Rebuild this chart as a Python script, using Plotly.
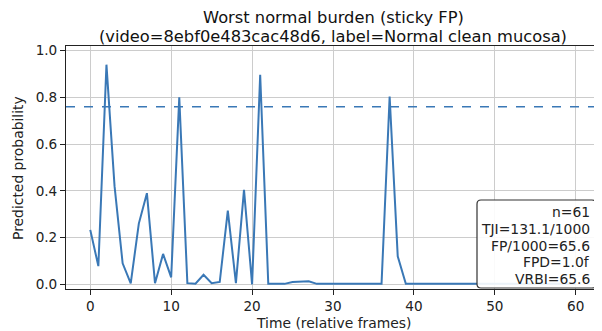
import plotly.graph_objects as go

frames = list(range(61))
probs = [0.233, 0.078, 0.94, 0.42, 0.09, 0.004, 0.26, 0.39, 0.005, 0.13,
         0.03, 0.80, 0.005, 0.003, 0.041, 0.005, 0.01, 0.315, 0.005, 0.404,
         0.0, 0.897, 0.002, 0.002, 0.002, 0.01, 0.01, 0.013, 0.002, 0.002,
         0.002, 0.002, 0.002, 0.002, 0.002, 0.002, 0.002, 0.804, 0.12, 0.002,
         0.002, 0.002, 0.002, 0.003, 0.003, 0.002, 0.002, 0.002, 0.002, 0.002,
         0.002, 0.002, 0.002, 0.002, 0.002, 0.002, 0.002, 0.002, 0.002, 0.002,
         0.002]
threshold = 0.76
title_lines = ["Worst normal burden (sticky FP)",
               "(video=8ebf0e483cac48d6, label=Normal clean mucosa)"]
stats_lines = ["n=61", "TJI=131.1/1000", "FP/1000=65.6", "FPD=1.0f", "VRBI=65.6"]
x_ticks = [0, 10, 20, 30, 40, 50, 60]
y_ticks = [0.0, 0.2, 0.4, 0.6, 0.8, 1.0]
x_label = "Time (relative frames)"
y_label = "Predicted probability"

color = "#3a78b6"
W, H = 594, 323
L, R, T, B = 58, 2, 38, 42
pw, ph = W - L - R, H - T - B


def px(x):  # reference pixel x -> paper
    return (x - 66) / pw


def py(y):  # reference pixel y -> paper
    return (289 - y) / ph


fig = go.Figure()
fig.add_trace(go.Scatter(x=frames, y=probs, mode="lines",
                         line=dict(color=color, width=2), showlegend=False))
fig.add_hline(y=threshold, line=dict(color=color, width=1.6, dash="dash"))

# rounded stats box
x0, x1 = px(477), px(596)
y0, y1 = py(288), py(200)
rx, ry = 4 / pw, 4 / ph
path = (f"M {x0+rx},{y0} L {x1-rx},{y0} Q {x1},{y0} {x1},{y0+ry} "
        f"L {x1},{y1-ry} Q {x1},{y1} {x1-rx},{y1} L {x0+rx},{y1} "
        f"Q {x0},{y1} {x0},{y1-ry} L {x0},{y0+ry} Q {x0},{y0} {x0+rx},{y0} Z")
fig.add_shape(type="path", path=path, xref="paper", yref="paper", layer="above",
              fillcolor="rgba(255,255,255,0.9)", line=dict(color="#333", width=1.2))
for i, line in enumerate(stats_lines):
    fig.add_annotation(
        xref="paper", yref="paper", x=px(591), y=py(212.5 + 16.5 * i),
        xanchor="right", yanchor="middle", text=line, showarrow=False,
        font=dict(size=13.9, color="#222"), borderpad=0,
    )

# title
for i, line in enumerate(title_lines):
    fig.add_annotation(
        xref="paper", yref="paper", x=px(333), y=py(17.5 + 19 * i),
        xanchor="center", yanchor="middle", showarrow=False, borderpad=0,
        text=line, font=dict(size=16.3, color="#111"),
    )
# axis labels
fig.add_annotation(
    xref="paper", yref="paper", x=px(18), y=py(168),
    xanchor="center", yanchor="middle", showarrow=False, textangle=-90,
    text=y_label, font=dict(size=13.9, color="#222"),
)
fig.add_annotation(
    xref="paper", yref="paper", x=px(334), y=py(323),
    xanchor="center", yanchor="middle", showarrow=False,
    text=x_label, font=dict(size=13.9, color="#222"),
)

fig.update_layout(
    width=W, height=H,
    margin=dict(l=L, r=R, t=T, b=B, autoexpand=False),
    paper_bgcolor="white", plot_bgcolor="white",
    font=dict(family="DejaVu Sans", size=13.6, color="#222"),
)
fig.update_xaxes(range=[-3, 63], tickvals=x_ticks, showgrid=True, gridcolor="#cccccc",
                 gridwidth=1, zeroline=False, showline=True, linecolor="#222", linewidth=1,
                 mirror=True, ticks="outside", ticklen=5, tickcolor="#222", automargin=False)
fig.update_yaxes(range=[-0.02, 1.02], tickvals=y_ticks, tickformat=".1f", showgrid=True,
                 gridcolor="#cccccc", gridwidth=1, zeroline=False, showline=True,
                 linecolor="#222", linewidth=1, mirror=True, ticks="outside", ticklen=5,
                 tickcolor="#222", automargin=False)

fig.write_html("out.html")
